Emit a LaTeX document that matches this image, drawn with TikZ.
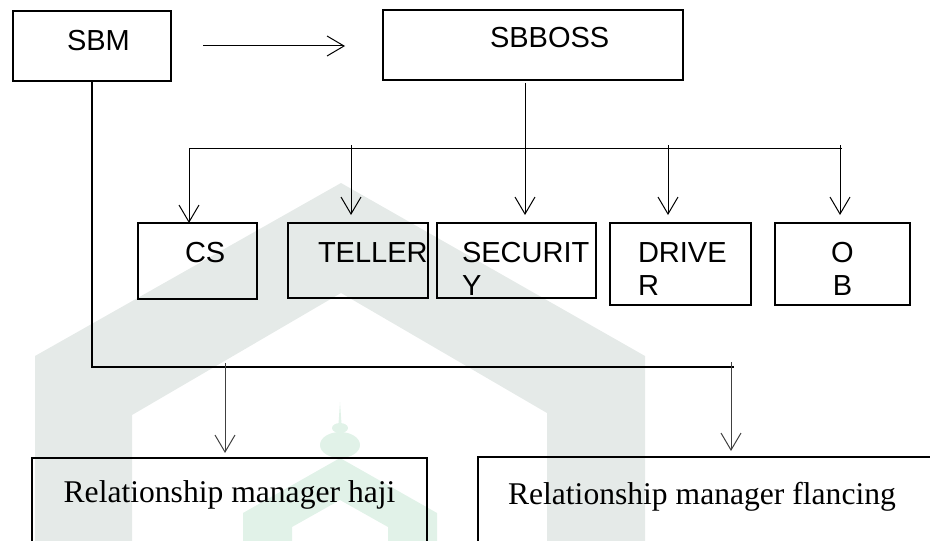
\documentclass[tikz,border=0pt]{standalone}
\usepackage{fontspec}
\usetikzlibrary{arrows.meta}
\newfontfamily\boxfont{Liberation Sans}
\newfontfamily\mgrfont{Liberation Serif}
\definecolor{MarkGray}{HTML}{E5EAE8}
\definecolor{MarkGreen}{HTML}{E1F2E8}
\definecolor{LineGray}{HTML}{404040}
\hyphenpenalty=10000
\exhyphenpenalty=10000

\begin{document}
\begin{tikzpicture}[x=0.5pt,y=-0.5pt,
  unit/.style={draw,line width=1.25pt,anchor=north west,outer sep=0pt,inner ysep=0pt,
    align=flush left,font=\boxfont\fontsize{14.5pt}{16.75pt}\selectfont},
  mgr/.style={draw,line width=1.25pt,anchor=north west,outer sep=0pt,inner ysep=0pt,
    text height=22pt,text depth=60pt,font=\mgrfont\fontsize{15.8pt}{19pt}\selectfont},
  link/.style={line width=0.5pt},
  trunk/.style={line width=1pt},
  arr/.style={-{Straight Barb[length=8.5pt,width=10pt]},line width=0.5pt}]
  \useasboundingbox (0,0) rectangle (930,540);

  % --- watermark ---
  \fill[MarkGray] (341,183) -- (645,356) -- (645,545) -- (547,545) -- (547,413)
    -- (341,293) -- (132,415) -- (132,545) -- (35,545) -- (35,356) -- cycle;
  \fill[MarkGreen] (340,458) -- (437,513) -- (437,545) -- (388,545) -- (388,527)
    -- (340,500) -- (292,527) -- (292,545) -- (243,545) -- (243,513) -- cycle;
  \fill[MarkGreen] (340,445) ellipse [x radius=10pt,y radius=6.5pt];
  \fill[MarkGreen] (340,428) ellipse [x radius=4pt,y radius=2.5pt];
  \fill[MarkGreen] (338.5,424) -- (340,402) -- (341.5,424) -- cycle;

  % --- top row ---
  \node[unit,inner xsep=27pt,text width=25pt,text height=20pt,text depth=15pt]
    (sbm) at (13,11) {SBM};
  \node[unit,inner xsep=53.5pt,text width=43pt,text height=19pt,text depth=16pt]
    (sbboss) at (383,10) {SBBOSS};
  \draw[arr,shorten <=16pt,shorten >=19pt] (sbm.east) -- (sbm.east -| sbboss.west);

  % --- staff under SBBOSS ---
  \node[unit,inner xsep=23.5pt,text width=12.5pt,text height=19.5pt,text depth=18.5pt]
    (cs) at (138,223) {CS};
  \node[unit,inner xsep=15pt,text width=40pt,text height=19.5pt,text depth=18pt]
    (teller) at (288,223) {TELLER};
  \node[unit,inner xsep=12.5pt,text width=54.5pt,text height=19.5pt,text depth=18pt]
    (security) at (437,223) {SECURIT\\Y};
  \node[unit,inner xsep=14pt,text width=42.5pt,text height=19.5pt,text depth=21.5pt]
    (driver) at (610,223) {DRIVE\\R};
  \node[unit,align=center,inner xsep=27.5pt,text width=12.5pt,text height=19.5pt,text depth=21.5pt]
    (ob) at (775,223) {O\\B};

  \coordinate (jBoss) at (525,148);
  \coordinate (busL)  at (189,148);
  \coordinate (busR)  at (842,148);
  \coordinate (tTel)  at (351,145);
  \coordinate (tDrv)  at (668,145);
  \coordinate (tOb)   at (840,145);
  \draw[link] ([yshift=-1.5pt]jBoss |- sbboss.south) -- (jBoss);
  \draw[link] (busL) -- (busR);
  \draw[arr] (busL) -- (busL |- cs.north);
  \draw[arr,shorten >=4pt] (tTel) -- (tTel |- teller.north);
  \draw[arr,shorten >=4pt] (jBoss) -- (jBoss |- security.north);
  \draw[arr,shorten >=4pt] (tDrv) -- (tDrv |- driver.north);
  \draw[arr,shorten >=4pt] (tOb) -- (tOb |- ob.north);

  % --- relationship managers under SBM ---
  \node[mgr,inner xsep=0pt,minimum width=197.5pt] (haji) at (32,458)
    {Relationship manager haji};
  \node[mgr,align=flush left,inner xsep=15pt,text width=240pt,text height=23.5pt]
    (flan) at (478,457) {Relationship manager flancing};

  \coordinate (busB)  at (734,367);
  \coordinate (tHaji) at (225,363);
  \coordinate (tFlan) at (731,362);
  \draw[trunk] (sbm.south) -- (sbm.south |- busB) -- (busB);
  \draw[arr,LineGray,shorten >=2.5pt] (tHaji) -- (tHaji |- haji.north);
  \draw[arr,LineGray,shorten >=3pt] (tFlan) -- (tFlan |- flan.north);
\end{tikzpicture}
\end{document}
